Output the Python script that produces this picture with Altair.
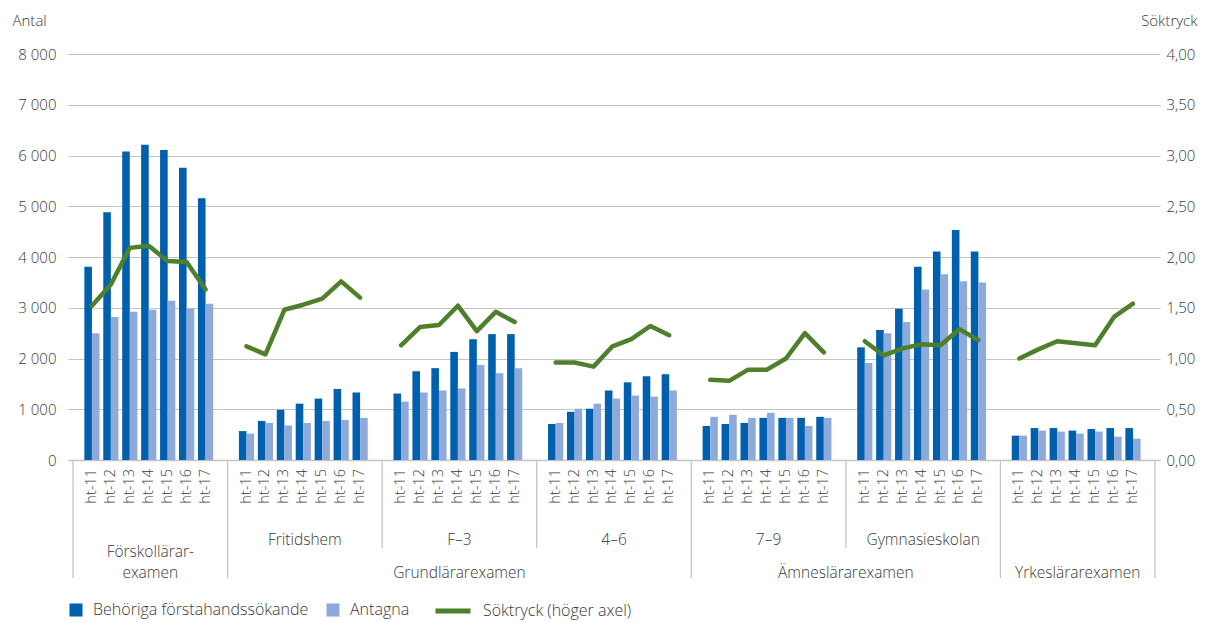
import altair as alt
import pandas as pd

FONT = "Open Sans"
TXT = "#3a3a3a"
FW = 300

years = ["ht-11", "ht-12", "ht-13", "ht-14", "ht-15", "ht-16", "ht-17"]
groups = ["Förskollärarexamen", "Fritidshem", "F–3", "4–6", "7–9", "Gymnasieskolan", "Yrkeslärarexamen"]

# Behöriga förstahandssökande (per group, ht-11 .. ht-17)
behoriga = [
    [3810, 4880, 6080, 6210, 6110, 5760, 5160],
    [570, 770, 990, 1110, 1210, 1400, 1330],
    [1310, 1750, 1810, 2130, 2380, 2480, 2480],
    [710, 950, 1010, 1370, 1530, 1650, 1690],
    [670, 710, 730, 830, 830, 830, 850],
    [2220, 2560, 2980, 3810, 4110, 4530, 4110],
    [480, 630, 630, 580, 610, 630, 630],
]
# Antagna
antagna = [
    [2500, 2820, 2920, 2960, 3140, 2980, 3080],
    [520, 730, 680, 730, 770, 790, 830],
    [1150, 1330, 1370, 1410, 1870, 1710, 1810],
    [730, 1010, 1110, 1210, 1270, 1250, 1370],
    [850, 890, 830, 930, 830, 670, 830],
    [1910, 2500, 2720, 3360, 3660, 3520, 3500],
    [480, 580, 560, 520, 560, 460, 420],
]
# Söktryck (höger axel)
soktryck = [
    [1.52, 1.73, 2.09, 2.11, 1.96, 1.95, 1.68],
    [1.12, 1.04, 1.48, 1.53, 1.59, 1.76, 1.60],
    [1.13, 1.31, 1.33, 1.52, 1.27, 1.46, 1.36],
    [0.96, 0.96, 0.92, 1.12, 1.19, 1.32, 1.23],
    [0.79, 0.78, 0.89, 0.89, 1.00, 1.25, 1.06],
    [1.17, 1.03, 1.10, 1.14, 1.13, 1.29, 1.18],
    [1.00, 1.09, 1.17, 1.15, 1.13, 1.41, 1.54],
]

row1_labels = ["", "Fritidshem", "F–3", "4–6", "7–9", "Gymnasieskolan", ""]
parents = ["Grundlärarexamen", "Ämneslärarexamen", "Yrkeslärarexamen"]
parent_span = [(1, 3), (4, 5), (6, 6)]
two_line_label = "Förskollärar-\nexamen"

SLOTS = 8  # slot units per group on the category axis
rows = []
for g, grp in enumerate(groups):
    for i, yr in enumerate(years):
        rows.append(dict(grupp=grp, ar=yr, pos=g * SLOTS + 0.98 * (i + 1),
                         beh=behoriga[g][i], ant=antagna[g][i], sok=soktryck[g][i]))
df = pd.DataFrame(rows)

df_row1 = pd.DataFrame({"pos": [g * SLOTS + SLOTS / 2 for g in range(len(groups))],
                        "txt": row1_labels})
df_row1 = df_row1[df_row1.txt != ""]
df_par = pd.DataFrame({"pos": [(a * SLOTS + (b + 1) * SLOTS) / 2 for a, b in parent_span],
                       "txt": parents})
df_two = pd.DataFrame({"pos": [SLOTS / 2], "txt": [two_line_label]})
main_bounds = sorted({0} | {a * SLOTS for a, b in parent_span} | {len(groups) * SLOTS})
sub_bounds = [g * SLOTS for g in range(1, len(groups)) if g * SLOTS not in main_bounds]
df_main = pd.DataFrame({"pos": main_bounds})
df_sub = pd.DataFrame({"pos": sub_bounds})

W, H = 1092, 406
GRID = "#C4C4C4"

X = alt.X("pos:Q", scale=alt.Scale(domain=[0, len(groups) * SLOTS], nice=False, zero=False),
          axis=alt.Axis(labels=False, ticks=False, grid=False, domain=True,
                        domainColor=GRID, domainWidth=1.3, title=None))

yaxis_left = alt.Axis(values=list(range(0, 8001, 1000)),
                      labelExpr="replace(format(datum.value, ','), ',', ' ')",
                      title="Antal", titleAngle=0, titleAlign="left", titleX=-56, titleY=-29,
                      titleBaseline="alphabetic", titleFontWeight=FW,
                      grid=True, gridColor=GRID, gridWidth=1.2, ticks=False, domain=False,
                      labelPadding=12)
yscale_left = alt.Scale(domain=[0, 8000], nice=False)

color = alt.Color("serie:N",
                  scale=alt.Scale(domain=["Behöriga förstahandssökande", "Antagna"],
                                  range=["#0060AE", "#8EAADB"]),
                  legend=alt.Legend(orient="none", legendX=0, legendY=548, direction="horizontal",
                                    title=None, symbolType="square", symbolSize=170,
                                    symbolStrokeWidth=0, labelOffset=9, columnPadding=16,
                                    padding=0, labelLimit=400))

base = alt.Chart(df)
bars_d = base.transform_calculate(serie="'Behöriga förstahandssökande'").mark_bar(
    size=7.6, xOffset=-3.8).encode(
    x=X, y=alt.Y("beh:Q", scale=yscale_left, axis=yaxis_left, title="Antal"), color=color)
bars_l = base.transform_calculate(serie="'Antagna'").mark_bar(
    size=7.6, xOffset=3.8).encode(
    x=X, y=alt.Y("ant:Q", scale=yscale_left, axis=yaxis_left, title="Antal"), color=color)
bars = alt.layer(bars_d, bars_l)

line = base.transform_calculate(serie="'Söktryck (höger axel)'").mark_line(
    strokeWidth=4.5, strokeCap="round", strokeJoin="round").encode(
    x=X,
    y=alt.Y("sok:Q", scale=alt.Scale(domain=[0, 4], nice=False),
            axis=alt.Axis(orient="right", values=[0, 0.5, 1, 1.5, 2, 2.5, 3, 3.5, 4],
                          labelExpr="replace(format(datum.value, '.2f'), '.', ',')",
                          title="Söktryck", titleAngle=0, titleAlign="right", titleX=37,
                          titleY=-29, titleBaseline="alphabetic", titleFontWeight=FW,
                          grid=False, ticks=False, domain=False, labelPadding=6)),
    detail="grupp:N",
    stroke=alt.Stroke("serie:N", scale=alt.Scale(domain=["Söktryck (höger axel)"], range=["#4E7F2A"]),
                      legend=alt.Legend(orient="none", legendX=365, legendY=537, title=None,
                                        symbolType="stroke", symbolSize=1225, symbolStrokeWidth=5,
                                        labelOffset=10, padding=0, labelLimit=400)),
)

year_txt = base.mark_text(angle=270, align="right", baseline="middle", font=FONT, fontWeight=FW,
                          fontSize=14.5, color=TXT).encode(x=X, y=alt.value(H + 9), text="ar:N")

sep_main = alt.Chart(df_main).mark_rule(color=GRID, strokeWidth=1.3).encode(
    x=X, y=alt.value(H), y2=alt.value(H + 118))
sep_sub = alt.Chart(df_sub).mark_rule(color=GRID, strokeWidth=1.3).encode(
    x=X, y=alt.value(H), y2=alt.value(H + 88))

row1 = alt.Chart(df_row1).mark_text(baseline="middle", font=FONT, fontWeight=FW, fontSize=15.5,
                                    color=TXT).encode(x=X, y=alt.value(H + 80), text="txt:N")
row2 = alt.Chart(df_par).mark_text(baseline="middle", font=FONT, fontWeight=FW, fontSize=15.5,
                                   color=TXT).encode(x=X, y=alt.value(H + 113), text="txt:N")
two = alt.Chart(df_two).mark_text(baseline="middle", font=FONT, fontWeight=FW, fontSize=15.5,
                                  color=TXT, lineBreak="\n", lineHeight=21).encode(
    x=X, y=alt.value(H + 92), text="txt:N")

chart = alt.layer(sep_main, sep_sub, bars, line, year_txt, row1, row2, two).resolve_scale(
    y="independent", color="independent", stroke="independent"
).properties(
    width=W, height=H,
    autosize=alt.AutoSizeParams(type="none"),
    padding={"left": 60, "top": 46, "right": 39, "bottom": 160},
).configure_view(stroke=None).configure_axis(
    labelFont=FONT, titleFont=FONT, labelFontSize=15, titleFontSize=15,
    labelColor=TXT, titleColor=TXT, labelFontWeight=FW,
).configure_legend(labelFont=FONT, labelFontSize=16, labelColor=TXT, labelFontWeight=FW)

chart.save("out.html", embed_options={"renderer": "svg", "actions": False})
